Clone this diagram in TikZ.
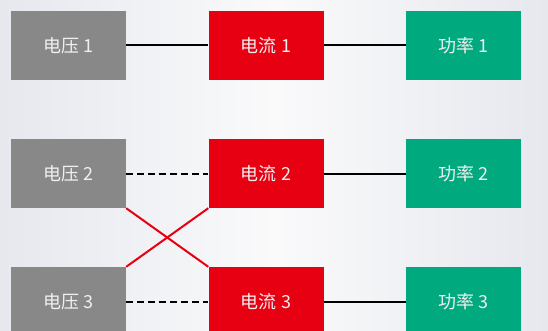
\documentclass[tikz,border=0pt]{standalone}
\usepackage{fontspec}
\newfontfamily\cjk{Noto Sans CJK SC}
\definecolor{boxgray}{HTML}{888888}
\definecolor{boxred}{HTML}{E60012}
\definecolor{boxgreen}{HTML}{00A97E}
\definecolor{boxtext}{HTML}{F0F0F0}
\definecolor{bgedge}{HTML}{E6E8EE}
\definecolor{bgmid}{HTML}{FAFAFB}
\begin{document}
\begin{tikzpicture}[x=1pt,y=-1pt,
  box/.style={minimum width=115pt,minimum height=69pt,inner sep=0pt,text=boxtext,font=\cjk\fontsize{18}{21}\selectfont},
  vbox/.style={box,fill=boxgray},
  ibox/.style={box,fill=boxred},
  pbox/.style={box,fill=boxgreen},
  link/.style={black,line width=2pt},
  dlink/.style={black,line width=2pt,dash pattern=on 7pt off 4pt},
  xlink/.style={boxred,line width=2pt}]
\useasboundingbox (0,0) rectangle (548,331);
\clip (0,0) rectangle (548,331);
\shade[left color=bgedge,right color=bgedge,middle color=bgmid] (0,0) rectangle (548,331);
\node[vbox] (v1) at (68.5,45.5) {电压 1};
\node[ibox] (i1) at (266,45.5) {电流 1};
\node[pbox] (p1) at (463.5,45.5) {功率 1};
\node[vbox] (v2) at (68.5,173.5) {电压 2};
\node[ibox] (i2) at (266,173.5) {电流 2};
\node[pbox] (p2) at (463.5,173.5) {功率 2};
\node[vbox] (v3) at (68.5,301.5) {电压 3};
\node[ibox] (i3) at (266,301.5) {电流 3};
\node[pbox] (p3) at (463.5,301.5) {功率 3};
\draw[link] (v1) -- (i1);
\draw[link] (i1) -- (p1);
\draw[dlink] (v2) -- (i2);
\draw[link] (i2) -- (p2);
\draw[dlink] (v3) -- (i3);
\draw[link] (i3) -- (p3);
\draw[xlink] (v2.south east) -- (i3.north west);
\draw[xlink] (v3.north east) -- (i2.south west);
\end{tikzpicture}
\end{document}
